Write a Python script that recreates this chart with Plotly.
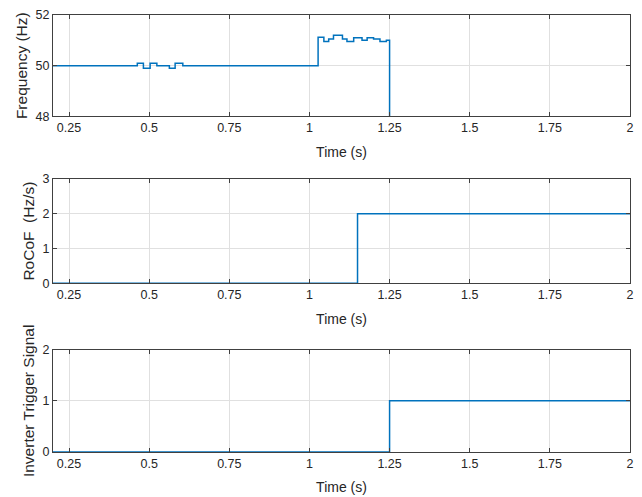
import plotly.graph_objects as go

# Data
t_freq = [0.2, 0.463, 0.482, 0.503, 0.524, 0.563, 0.581, 0.605, 1.027, 1.045, 1.06, 1.075,
          1.103, 1.117, 1.138, 1.164, 1.18, 1.2, 1.22, 1.24, 1.25]
freq_hz = [50, 50.1, 49.9, 50.1, 50, 49.9, 50.1, 50, 51.12, 50.95, 51.05, 51.2,
           51.05, 50.95, 51.1, 51.0, 51.1, 51.05, 50.95, 51.0, 48]
t_rocof = [0.2, 1.15, 2.0]
rocof = [0, 2, 2]
t_trig = [0.2, 1.25, 2.0]
trigger = [0, 1, 1]

x_ticks = [0.25, 0.5, 0.75, 1, 1.25, 1.5, 1.75, 2]
x_tick_labels = ["0.25", "0.5", "0.75", "1", "1.25", "1.5", "1.75", "2"]

line_color = "#0072BD"
axis_color = "#404040"
text_color = "#262626"
grid_color = "#e0e0e0"
font_family = "Liberation Sans, Arial, sans-serif"

fig = go.Figure()
fig.add_trace(go.Scatter(x=t_freq, y=freq_hz, mode="lines", line=dict(shape="hv", color=line_color, width=1.5),
                         xaxis="x", yaxis="y", showlegend=False))
fig.add_trace(go.Scatter(x=t_rocof, y=rocof, mode="lines", line=dict(shape="hv", color=line_color, width=1.5),
                         xaxis="x2", yaxis="y2", showlegend=False))
fig.add_trace(go.Scatter(x=t_trig, y=trigger, mode="lines", line=dict(shape="hv", color=line_color, width=1.5),
                         xaxis="x3", yaxis="y3", showlegend=False))

common_x = dict(range=[0.2, 2.0], tickvals=x_ticks, ticktext=x_tick_labels, showgrid=True, gridcolor=grid_color,
                gridwidth=1, showline=True, linecolor=axis_color, linewidth=1, mirror="ticks", ticks="inside",
                ticklen=4, tickcolor=axis_color, zeroline=False,
                tickfont=dict(size=12.5, color=text_color, family=font_family),
                title=dict(text="Time (s)", font=dict(size=14, color=text_color, family=font_family), standoff=12))
common_y = dict(showgrid=True, gridcolor=grid_color, gridwidth=1, showline=True, linecolor=axis_color,
                linewidth=1, mirror="ticks", ticks="inside", ticklen=4, tickcolor=axis_color, zeroline=False,
                tickfont=dict(size=12.5, color=text_color, family=font_family))

def ytitle(text):
    return dict(text=text, font=dict(size=15.5, color=text_color, family=font_family), standoff=4)

# Page body has an 8px margin, so the figure is offset by 8px in the window.
fig.update_layout(
    width=634, height=489,
    margin=dict(l=45, r=12, t=0, b=45),
    paper_bgcolor="white", plot_bgcolor="white",
    xaxis=dict(common_x, domain=[0, 1], anchor="y"),
    yaxis=dict(common_y, domain=[0.768, 1.0], range=[48, 52], tickvals=[48, 50, 52], anchor="x",
               title=ytitle("Frequency (Hz)")),
    xaxis2=dict(common_x, domain=[0, 1], anchor="y2"),
    yaxis2=dict(common_y, domain=[0.386, 0.625], range=[0, 3], tickvals=[0, 1, 2, 3], anchor="x2",
                title=ytitle("RoCoF  (Hz/s)")),
    xaxis3=dict(common_x, domain=[0, 1], anchor="y3"),
    yaxis3=dict(common_y, domain=[0, 0.2342], range=[0, 2], tickvals=[0, 1, 2], anchor="x3",
                title=ytitle("Inverter Trigger Signal")),
)

fig.write_html("out.html")
